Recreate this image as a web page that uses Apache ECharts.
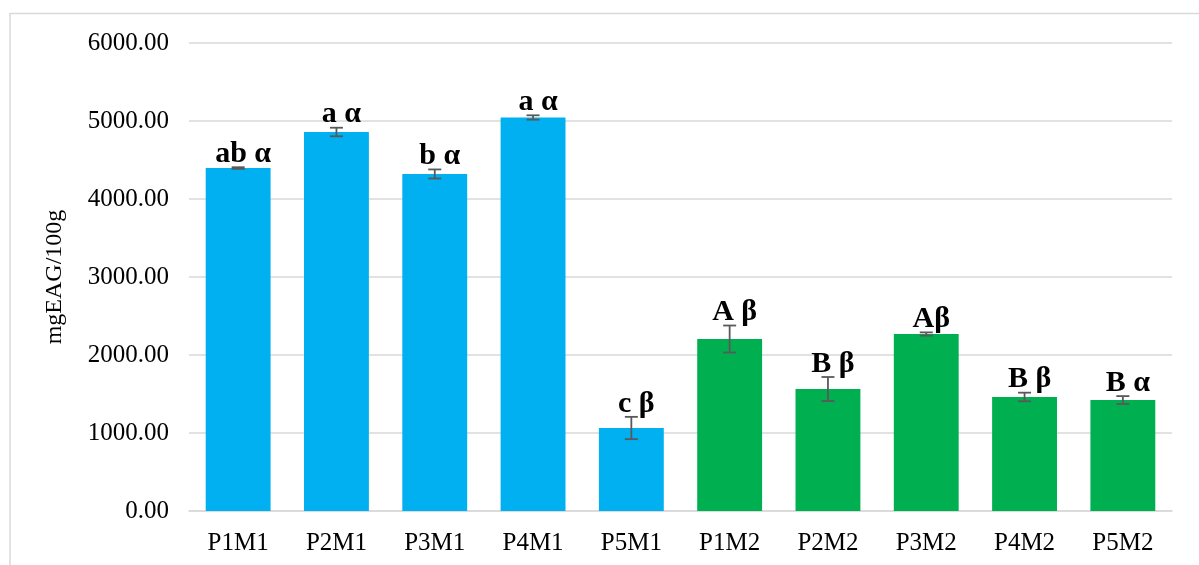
<!DOCTYPE html>
<html>
<head>
<meta charset="utf-8">
<script src="https://cdn.jsdelivr.net/npm/echarts@6/dist/echarts.min.js"></script>
<style>html,body{margin:0;padding:0;background:#fff;}#c{width:1199px;height:565px;}</style>
</head>
<body>
<div id="c"></div>
<script>
const categories = ['P1M1','P2M1','P3M1','P4M1','P5M1','P1M2','P2M2','P3M2','P4M2','P5M2'];
const values = [4397, 4859, 4321, 5045, 1064, 2205, 1564, 2269, 1462, 1423];
const errors = [10, 55, 58, 28, 143, 173, 154, 21, 55, 50];
const letters = ['ab α','a α','b α','a α','c β','A β','B β','Aβ','B β','B α'];
const groups = ['M1','M1','M1','M1','M1','M2','M2','M2','M2','M2'];
const yTicks = [0, 1000, 2000, 3000, 4000, 5000, 6000];

const groupColor = {M1: '#00B0F0', M2: '#00B050'};
const serif = '"Liberation Serif", "DejaVu Serif", serif';

const chart = echarts.init(document.getElementById('c'), null, {renderer: 'canvas'});
chart.setOption({
  animation: false,
  backgroundColor: '#fff',
  graphic: [
    {type: 'line', shape: {x1: 10, y1: 13.5, x2: 1199, y2: 13.5}, style: {stroke: '#d9d9d9', lineWidth: 1.5}},
    {type: 'line', shape: {x1: 10, y1: 13, x2: 10, y2: 565}, style: {stroke: '#d9d9d9', lineWidth: 1.5}}
  ],
  grid: {left: 189, right: 27, top: 43, bottom: 54},
  xAxis: {
    type: 'category',
    data: categories,
    axisLine: {lineStyle: {color: '#d9d9d9', width: 1.5}},
    axisTick: {show: false},
    axisLabel: {color: '#000', fontFamily: serif, fontSize: 25, margin: 20}
  },
  yAxis: {
    type: 'value',
    min: yTicks[0], max: yTicks[yTicks.length - 1], interval: 1000,
    name: 'mgEAG/100g',
    nameLocation: 'middle',
    nameGap: 122,
    nameRotate: 90,
    nameTextStyle: {color: '#000', fontFamily: serif, fontSize: 24},
    axisLine: {show: false},
    axisTick: {show: false},
    splitLine: {lineStyle: {color: '#d9d9d9', width: 1.5}},
    axisLabel: {color: '#000', fontFamily: serif, fontSize: 25, margin: 20,
      formatter: v => v.toFixed(2)}
  },
  series: [
    {
      type: 'bar',
      data: values.map((v, i) => ({value: v, itemStyle: {color: groupColor[groups[i]]}})),
      barCategoryGap: '34%'
    },
    {
      type: 'custom',
      data: values.map((v, i) => [i, v, errors[i]]),
      z: 10,
      renderItem: function (params, api) {
        const i = api.value(0), v = api.value(1), e = api.value(2);
        const top = api.coord([i, v + e]);
        const bot = api.coord([i, v - e]);
        const x = top[0];
        const cap = 6.5;
        const st = {stroke: '#595959', lineWidth: 1.8};
        return {
          type: 'group',
          children: [
            {type: 'line', shape: {x1: x, y1: top[1], x2: x, y2: bot[1]}, style: st},
            {type: 'line', shape: {x1: x - cap, y1: top[1], x2: x + cap, y2: top[1]}, style: st},
            {type: 'line', shape: {x1: x - cap, y1: bot[1], x2: x + cap, y2: bot[1]}, style: st},
            {type: 'text', x: x + 5, y: top[1] + 2,
              style: {text: letters[i], fill: '#000', font: 'bold 30px ' + serif,
                align: 'center', verticalAlign: 'bottom'}}
          ]
        };
      }
    }
  ]
});
</script>
</body>
</html>
